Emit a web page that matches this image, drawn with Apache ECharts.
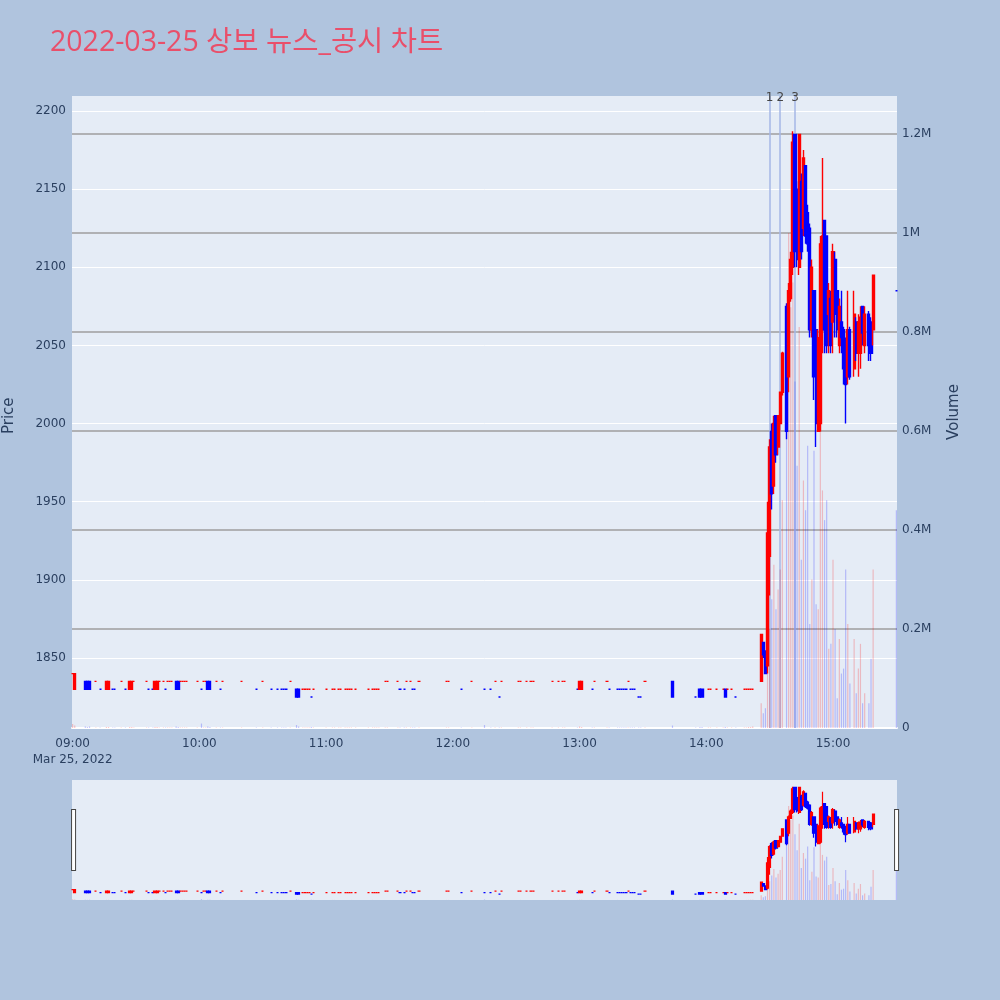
<!DOCTYPE html>
<html>
<head>
<meta charset="utf-8">
<script src="https://cdn.jsdelivr.net/npm/echarts@6/dist/echarts.min.js"></script>
<style>
    html, body { margin: 0; padding: 0; background: #b0c4de; }
    #chart { width: 1000px; height: 1000px; }
</style>
</head>
<body>
<div id="chart"></div>
<script>
    // one-minute bars, 2022-03-25
    var times = [
        '09:00','09:01','09:06','09:07','09:08','09:11','09:13','09:16','09:17','09:19',
        '09:20','09:23','09:25','09:27','09:28','09:29','09:35','09:36','09:38','09:39',
        '09:40','09:41','09:43','09:44','09:45','09:46','09:47','09:49','09:50','09:51',
        '09:52','09:53','09:54','09:59','10:01','10:02','10:03','10:04','10:05','10:08',
        '10:10','10:11','10:20','10:27','10:30','10:34','10:37','10:39','10:40','10:41',
        '10:43','10:46','10:47','10:49','10:50','10:51','10:52','10:53','10:54','11:00',
        '11:03','11:04','11:06','11:07','11:09','11:10','11:11','11:12','11:14','11:20',
        '11:22','11:23','11:24','11:25','11:28','11:29','11:34','11:35','11:37','11:38',
        '11:40','11:41','11:42','11:44','11:57','11:58','12:04','12:09','12:15','12:18',
        '12:20','12:22','12:23','12:31','12:32','12:35','12:37','12:38','12:47','12:50',
        '12:52','12:53','12:59','13:00','13:01','13:06','13:07','13:13','13:14','13:18',
        '13:19','13:20','13:21','13:22','13:23','13:24','13:25','13:26','13:28','13:29',
        '13:31','13:44','13:55','13:57','13:58','14:01','14:02','14:05','14:08','14:09',
        '14:10','14:12','14:14','14:18','14:19','14:20','14:21','14:22',
        '14:26','14:27','14:28','14:29','14:30','14:31','14:32','14:33','14:34','14:35',
        '14:36','14:38','14:39','14:40','14:41','14:42','14:43','14:44','14:45','14:46',
        '14:47','14:48','14:49','14:50','14:51','14:52','14:53','14:54','14:55','14:56',
        '14:57','14:58','14:59','15:00','15:01','15:02','15:03','15:04','15:05','15:06',
        '15:07','15:08','15:10','15:11','15:12','15:13','15:14','15:15','15:17','15:18',
        '15:19','15:30'
    ];
    var opens = [
        1840,1830,1835,1835,1835,1835,1830,1830,1830,1830,
        1830,1835,1830,1830,1830,1835,1835,1830,1830,1830,
        1830,1835,1835,1830,1835,1835,1835,1835,1835,1835,
        1835,1835,1835,1835,1830,1835,1835,1835,1835,1835,
        1830,1835,1835,1830,1835,1830,1830,1830,1830,1830,
        1835,1830,1830,1830,1830,1830,1830,1825,1830,1830,
        1830,1830,1830,1830,1830,1830,1830,1830,1830,1830,
        1830,1830,1830,1830,1835,1835,1835,1830,1830,1835,
        1835,1830,1830,1835,1835,1835,1830,1835,1830,1830,
        1835,1825,1835,1835,1835,1835,1835,1835,1835,1835,
        1835,1835,1830,1830,1830,1830,1835,1835,1830,1830,
        1830,1830,1830,1830,1835,1830,1830,1830,1825,1825,
        1835,1835,1825,1830,1830,1830,1830,1830,1830,1830,
        1830,1830,1825,1830,1830,1830,1830,1830,
        1835,1860,1852,1845,1915,1995,1960,2005,1985,2000,
        2020,2075,2030,2080,2100,2185,2150,2100,2155,2125,
        2165,2135,2125,2060,2085,2060,1995,2000,2060,2130,
        2120,2070,2080,2065,2105,2085,2050,2065,2060,2045,
        2030,2060,2035,2065,2045,2045,2075,2050,2070,2065,
        2060,2085
    ];
    var highs = [
        1840,1840,1835,1835,1835,1835,1830,1835,1835,1830,
        1830,1835,1830,1835,1835,1835,1835,1830,1830,1835,
        1835,1835,1835,1830,1835,1835,1835,1835,1835,1835,
        1835,1835,1835,1835,1830,1835,1835,1835,1835,1835,
        1830,1835,1835,1830,1835,1830,1830,1830,1830,1830,
        1835,1830,1830,1830,1830,1830,1830,1825,1830,1830,
        1830,1830,1830,1830,1830,1830,1830,1830,1830,1830,
        1830,1830,1830,1830,1835,1835,1835,1830,1830,1835,
        1835,1830,1830,1835,1835,1835,1830,1835,1830,1830,
        1835,1825,1835,1835,1835,1835,1835,1835,1835,1835,
        1835,1835,1830,1835,1835,1830,1835,1835,1830,1830,
        1830,1830,1830,1830,1835,1830,1830,1830,1825,1825,
        1835,1835,1825,1830,1830,1830,1830,1830,1830,1830,
        1830,1830,1825,1830,1830,1830,1830,1830,
        1865,1860,1855,1950,1990,2000,2005,2005,2005,2020,
        2046,2077,2090,2110,2187,2185,2155,2185,2160,2175,
        2165,2140,2128,2105,2085,2060,2060,2120,2170,2130,
        2120,2090,2085,2115,2110,2085,2080,2085,2062,2055,
        2085,2062,2085,2068,2070,2075,2075,2075,2072,2068,
        2095,2085
    ];
    var lows = [
        1840,1830,1830,1830,1830,1835,1830,1830,1830,1830,
        1830,1835,1830,1830,1830,1835,1835,1830,1830,1830,
        1830,1835,1835,1830,1835,1835,1835,1830,1830,1835,
        1835,1835,1835,1835,1830,1835,1835,1830,1830,1835,
        1830,1835,1835,1830,1835,1830,1830,1830,1830,1830,
        1835,1825,1825,1830,1830,1830,1830,1825,1830,1830,
        1830,1830,1830,1830,1830,1830,1830,1830,1830,1830,
        1830,1830,1830,1830,1835,1835,1835,1830,1830,1835,
        1835,1830,1830,1835,1835,1835,1830,1835,1830,1830,
        1835,1825,1835,1835,1835,1835,1835,1835,1835,1835,
        1835,1835,1830,1830,1830,1830,1835,1835,1830,1830,
        1830,1830,1830,1830,1835,1830,1830,1830,1825,1825,
        1835,1825,1825,1825,1825,1830,1830,1830,1830,1825,
        1830,1830,1825,1830,1830,1830,1830,1830,
        1835,1850,1840,1840,1890,1945,1955,1975,1980,1995,
        2018,1990,2020,2078,2095,2100,2100,2095,2105,2120,
        2115,2110,2055,2055,2015,1985,1995,1995,2045,2045,
        2045,2045,2045,2045,2055,2055,2045,2045,2025,2000,
        2025,2028,2030,2040,2030,2035,2050,2045,2040,2040,
        2050,2085
    ];
    var closes = [
        1840,1840,1830,1830,1830,1835,1830,1835,1835,1830,
        1830,1835,1830,1835,1835,1835,1835,1830,1830,1835,
        1835,1835,1835,1830,1835,1835,1835,1830,1830,1835,
        1835,1835,1835,1835,1830,1835,1835,1830,1830,1835,
        1830,1835,1835,1830,1835,1830,1830,1830,1830,1830,
        1835,1825,1825,1830,1830,1830,1830,1825,1830,1830,
        1830,1830,1830,1830,1830,1830,1830,1830,1830,1830,
        1830,1830,1830,1830,1835,1835,1835,1830,1830,1835,
        1835,1830,1830,1835,1835,1835,1830,1835,1830,1830,
        1835,1825,1835,1835,1835,1835,1835,1835,1835,1835,
        1835,1835,1830,1835,1835,1830,1835,1835,1830,1830,
        1830,1830,1830,1830,1835,1830,1830,1830,1825,1825,
        1835,1825,1825,1825,1825,1830,1830,1830,1830,1825,
        1830,1830,1825,1830,1830,1830,1830,1830,
        1865,1852,1840,1930,1985,1955,2000,1980,2005,2020,
        2045,1995,2085,2105,2180,2110,2105,2185,2110,2170,
        2120,2115,2060,2100,2030,2000,2055,2115,2120,2060,
        2050,2085,2050,2110,2070,2060,2075,2055,2035,2025,
        2060,2030,2070,2045,2065,2068,2058,2070,2050,2045,
        2095,2085
    ];
    var volumes = [
        8000,5000,3000,2000,3000,1000,1000,2000,2000,1000,
        1000,1000,1000,2000,2000,1000,1000,1000,1000,2000,
        2000,1000,1000,1000,1000,1000,1000,3000,2000,1000,
        1000,1000,1000,1000,9000,1000,1000,3000,2000,1000,
        1000,1000,1000,1000,1000,1000,1000,1000,1000,1000,
        1000,6000,3000,1000,1000,1000,1000,2000,1000,1000,
        1000,1000,1000,1000,1000,1000,1000,1000,1000,1000,
        1000,1000,1000,1000,1000,1000,1000,1000,1000,1000,
        1000,1000,1000,1000,1000,1000,1000,1000,6000,1000,
        1000,1000,1000,1000,1000,1000,1000,1000,1000,1000,
        1000,1000,1000,3000,2000,1000,1000,1000,1000,1000,
        1000,1000,1000,1000,1000,1000,1000,1000,1000,1000,
        1000,5000,1000,2000,2000,1000,1000,1000,1000,2000,
        1000,1000,1000,1000,1000,2000,2000,3000,
        50000,30000,40000,350000,200000,260000,330000,240000,280000,320000,
        460000,600000,1000000,850000,900000,700000,530000,810000,340000,500000,
        440000,570000,210000,300000,560000,250000,240000,600000,480000,420000,
        460000,160000,170000,340000,200000,60000,180000,110000,120000,320000,
        210000,90000,180000,70000,120000,170000,50000,70000,50000,140000,
        320000,440000
    ];
    // news / disclosure markers
    var eventTimes = ['14:30', '14:35', '14:42'];
    var eventLabels = ['1', '2', '3'];
    var hourTicks = ['09:00', '10:00', '11:00', '12:00', '13:00', '14:00', '15:00'];

    var TITLE_FONT = "'Open Sans', 'Noto Sans CJK KR', sans-serif";
    var FONT = "'DejaVu Sans', Verdana, sans-serif";
    var UP = '#ff0000', DOWN = '#0000ff';
    var UP_VOL = 'rgba(255,0,0,0.22)', DOWN_VOL = 'rgba(0,0,255,0.22)';

    function toMin(t) {
        var p = t.split(':');
        return (+p[0] - 9) * 60 + (+p[1]);
    }

    var candleData = [], volData = [];
    var up = true, prevClose = null;
    for (var i = 0; i < times.length; i++) {
        var o = opens[i], c = closes[i];
        if (c > o) up = true;
        else if (c < o) up = false;
        else if (prevClose !== null && c !== prevClose) up = c > prevClose;
        prevClose = c;
        var x = toMin(times[i]);
        var col = up ? UP : DOWN;
        candleData.push({
            value: [x, o, c, lows[i], highs[i]],
            itemStyle: {color: col, color0: col, borderColor: col, borderColor0: col}
        });
        volData.push({value: [x, volumes[i]], itemStyle: {color: up ? UP_VOL : DOWN_VOL}});
    }

    var X_MIN = -0.3, X_MAX = 390.3;
    var VOL_MAX = 1276768;

    var myChart = echarts.init(document.getElementById('chart'));
    var option = {
        animation: false,
        backgroundColor: '#b0c4de',
        textStyle: {fontFamily: FONT},
        title: {
            text: '2022-03-25 상보 뉴스_공시 차트',
            left: 50,
            top: 29,
            padding: 0,
            textStyle: {color: '#e94f6a', fontSize: 28.5, fontWeight: 'normal', fontFamily: TITLE_FONT}
        },
        grid: [
            {left: 72, right: 103, top: 96, bottom: 272, outerBoundsMode: 'none', containLabel: false,
                show: true, backgroundColor: '#e5ecf6', borderWidth: 0},
            {left: 72, right: 103, top: 95.4, bottom: 263.9, outerBoundsMode: 'none', containLabel: false},
            {left: 72, right: 103, top: 780, bottom: 100, outerBoundsMode: 'none', containLabel: false,
                show: true, backgroundColor: '#e5ecf6', borderWidth: 0},
            {left: 72, right: 103, top: 780, bottom: 100, outerBoundsMode: 'none', containLabel: false}
        ],
        xAxis: [
            {
                gridIndex: 0, type: 'value', min: X_MIN, max: X_MAX,
                axisLine: {show: true, lineStyle: {color: '#ffffff', width: 2}},
                axisTick: {show: false},
                splitLine: {show: false},
                axisLabel: {
                    customValues: hourTicks.map(toMin),
                    color: '#2a3f5f', fontSize: 12, fontFamily: FONT, margin: 8, lineHeight: 16,
                    formatter: function (v) {
                        var h = 9 + Math.round(v / 60);
                        var s = (h < 10 ? '0' : '') + h + ':00';
                        return v === 0 ? s + '\nMar 25, 2022' : s;
                    }
                }
            },
            {gridIndex: 1, type: 'value', min: X_MIN, max: X_MAX, show: false},
            {gridIndex: 2, type: 'value', min: X_MIN, max: X_MAX, show: false},
            {gridIndex: 3, type: 'value', min: X_MIN, max: X_MAX, show: false}
        ],
        yAxis: [
            {
                gridIndex: 0, type: 'value', position: 'right',
                min: 0, max: VOL_MAX, interval: 200000,
                name: 'Volume', nameLocation: 'middle', nameGap: 50, nameRotate: 90,
                nameTextStyle: {color: '#2a3f5f', fontSize: 15, fontFamily: FONT},
                axisLine: {show: false}, axisTick: {show: false},
                splitLine: {show: true, showMinLine: false, showMaxLine: false,
                    lineStyle: {color: '#9e9e9e', width: 1.5}},
                axisLabel: {
                    color: '#2a3f5f', fontSize: 12, fontFamily: FONT, margin: 5, showMaxLabel: false,
                    formatter: function (v) {
                        if (v === 0) return '0';
                        return (Math.round(v / 100000) / 10) + 'M';
                    }
                }
            },
            {
                gridIndex: 1, type: 'value', position: 'left',
                min: 1800, max: 2210, interval: 50,
                name: 'Price', nameLocation: 'middle', nameGap: 55, nameRotate: 90,
                nameTextStyle: {color: '#2a3f5f', fontSize: 15, fontFamily: FONT},
                axisLine: {show: false}, axisTick: {show: false},
                splitLine: {show: true, showMinLine: false, showMaxLine: false,
                    lineStyle: {color: '#ffffff', width: 1}},
                axisLabel: {color: '#2a3f5f', fontSize: 12, fontFamily: FONT, margin: 6,
                    showMinLabel: false, showMaxLabel: false,
                    formatter: function (v) { return String(v); }}
            },
            {gridIndex: 2, type: 'value', min: 0, max: VOL_MAX, show: false},
            {gridIndex: 3, type: 'value', min: 1805, max: 2209.6, show: false}
        ],
        dataZoom: [{
            type: 'slider', xAxisIndex: [0, 1], filterMode: 'none', start: 0, end: 100,
            left: 72, right: 103, top: 780, height: 120,
            backgroundColor: 'rgba(0,0,0,0)', borderColor: 'rgba(0,0,0,0)', fillerColor: 'rgba(0,0,0,0)',
            showDataShadow: false, showDetail: false, brushSelect: false, moveHandleSize: 0,
            handleIcon: 'path://M0,0 H4 V61 H0 Z', handleSize: '51%',
            handleStyle: {color: '#ffffff', borderColor: '#444444', borderWidth: 1},
            dataBackground: {lineStyle: {opacity: 0}, areaStyle: {opacity: 0}},
            selectedDataBackground: {lineStyle: {opacity: 0}, areaStyle: {opacity: 0}}
        }],
        series: [
            {
                type: 'bar', name: 'Volume', xAxisIndex: 0, yAxisIndex: 0,
                barWidth: 1.2, z: 2, data: volData,
                markLine: {
                    silent: true, symbol: ['none', 'none'], z: 1,
                    lineStyle: {color: '#a5b7e6', width: 1.5, type: 'solid'},
                    label: {show: true, position: 'end', formatter: '{b}', color: '#444444',
                        fontSize: 12, fontFamily: FONT, distance: -8},
                    data: eventTimes.map(function (t, k) {
                        return {name: eventLabels[k], xAxis: toMin(t)};
                    })
                }
            },
            {
                type: 'candlestick', name: 'Price', xAxisIndex: 1, yAxisIndex: 1,
                barWidth: 2.6, z: 3, data: candleData,
                encode: {x: 0, y: [1, 2, 3, 4]},
                itemStyle: {color: UP, color0: DOWN, borderColor: UP, borderColor0: DOWN, borderWidth: 1.4}
            },
            {
                type: 'bar', xAxisIndex: 2, yAxisIndex: 2,
                barWidth: 1.2, z: 2, data: volData
            },
            {
                type: 'candlestick', xAxisIndex: 3, yAxisIndex: 3,
                barWidth: 2.6, z: 3, data: candleData,
                encode: {x: 0, y: [1, 2, 3, 4]},
                itemStyle: {color: UP, color0: DOWN, borderColor: UP, borderColor0: DOWN, borderWidth: 1.2}
            }
        ]
    };
    myChart.setOption(option);
</script>
</body>
</html>
